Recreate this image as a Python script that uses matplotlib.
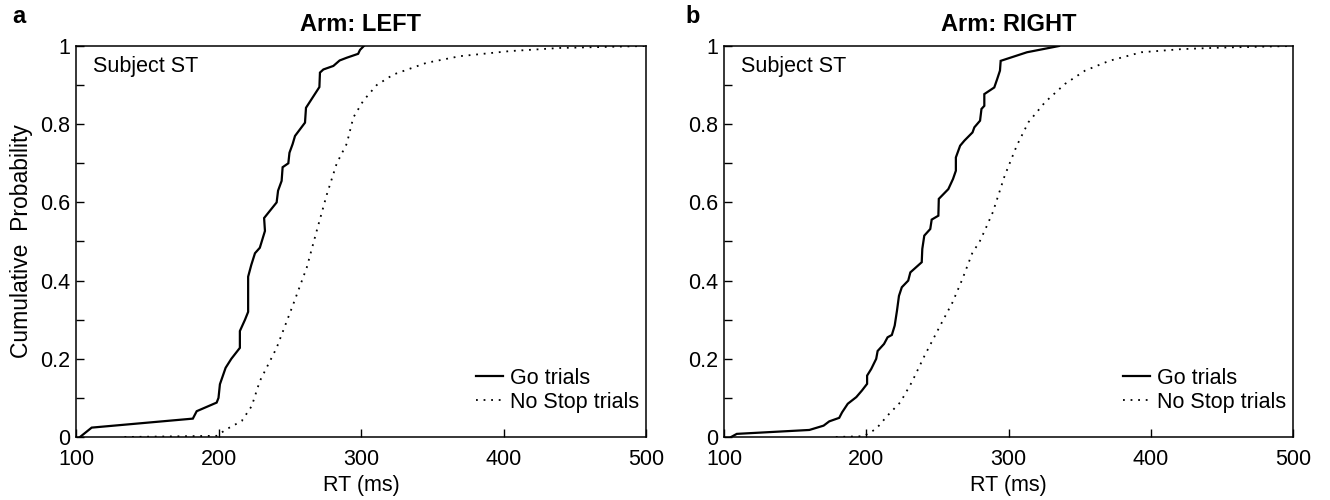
import matplotlib
matplotlib.use("Agg")
import matplotlib.pyplot as plt
from matplotlib.ticker import MultipleLocator

plt.rcParams['font.family'] = ['Liberation Sans', 'DejaVu Sans']

# ---- data ----
left_go_rt = [102.8, 111, 182, 184.7, 198.7, 200, 201, 205, 209, 215, 215, 218.6, 220.8, 220.8,
              223, 225.6, 229, 232.6, 232, 240.8, 241.8, 244.3, 245, 249, 249.8, 252, 253.7,
              260.7, 261.4, 270.8, 271.2, 273.6, 280.6, 285, 290, 298, 299.3, 302]
left_go_p = [0, 0.024, 0.047, 0.066, 0.088, 0.10, 0.135, 0.177, 0.2, 0.228, 0.271, 0.30, 0.32, 0.41,
             0.44, 0.47, 0.484, 0.527, 0.56, 0.60, 0.63, 0.655, 0.69, 0.70, 0.727, 0.749, 0.77,
             0.804, 0.842, 0.895, 0.932, 0.94, 0.949, 0.963, 0.97, 0.98, 0.99, 1.0]

left_ns_rt = [134, 198.7, 205.7, 216.3, 223.3, 229, 240.8, 252.5, 261.9, 268.9, 276, 283, 290,
              294.6, 301.6, 311, 322.7, 346, 369.5, 404.6, 439.6, 500]
left_ns_p = [0, 0.003, 0.02, 0.041, 0.079, 0.143, 0.228, 0.34, 0.433, 0.527, 0.62, 0.70, 0.75,
             0.817, 0.86, 0.90, 0.927, 0.957, 0.974, 0.987, 0.995, 1.0]

right_go_rt = [105, 109, 160, 170, 174, 181, 183, 187, 193, 197, 200.6, 200.6, 203.5, 207, 208,
               212.5, 215, 218, 220, 221.6, 223, 225, 229.5, 231, 235, 239, 239.4, 240.8, 245,
               246, 250.7, 251, 257.7, 261, 263, 263, 266, 269, 274.7, 276, 280, 281, 283, 283,
               290, 292, 294, 294.5, 313, 335.5]
right_go_p = [0, 0.008, 0.018, 0.029, 0.04, 0.049, 0.063, 0.085, 0.102, 0.119, 0.136, 0.157,
              0.174, 0.2, 0.22, 0.238, 0.255, 0.261, 0.285, 0.323, 0.361, 0.383, 0.4, 0.421,
              0.434, 0.447, 0.481, 0.515, 0.532, 0.556, 0.566, 0.609, 0.634, 0.66, 0.681, 0.715,
              0.745, 0.758, 0.779, 0.792, 0.809, 0.839, 0.847, 0.877, 0.894, 0.915, 0.937,
              0.962, 0.984, 1.0]

right_ns_rt = [178.6, 198, 201, 207, 215, 224, 232, 241, 252, 260.6, 267.6, 274.7, 279.5, 283.8,
               289, 297.3, 305.8, 314, 325.6, 339.7, 353.8, 370.8, 393.4, 421.7, 450, 500]
right_ns_p = [0, 0.002, 0.008, 0.021, 0.055, 0.089, 0.14, 0.208, 0.285, 0.344, 0.404, 0.472,
              0.498, 0.532, 0.575, 0.668, 0.745, 0.805, 0.856, 0.903, 0.937, 0.962, 0.984,
              0.992, 0.996, 1.0]

panels = [("a", "Arm: LEFT", left_go_rt, left_go_p, left_ns_rt, left_ns_p),
          ("b", "Arm: RIGHT", right_go_rt, right_go_p, right_ns_rt, right_ns_p)]

xticks = [100, 200, 300, 400, 500]
yticks = [0, 0.2, 0.4, 0.6, 0.8, 1]
ytick_labels = ["0", "0.2", "0.4", "0.6", "0.8", "1"]

fig = plt.figure(figsize=(13.3, 5.0), dpi=100)
W, H = 1330, 500
axes_px = [(76, 646), (724, 1293)]
label_px = [12, 685]
top_px, bot_px = 46, 437
FS = 15.5

for (lab, title, grt, gp, nrt, npv), (x0, x1), lx in zip(panels, axes_px, label_px):
    ax = fig.add_axes([x0 / W, 1 - bot_px / H, (x1 - x0) / W, (bot_px - top_px) / H])
    ax.plot(grt, gp, color='black', lw=1.6, label='Go trials', solid_joinstyle='miter')
    ax.plot(nrt, npv, color='black', lw=1.3, linestyle=(0, (1, 3.2)), label='No Stop trials')
    ax.set_xlim(100, 500)
    ax.set_ylim(0, 1)
    ax.set_xticks(xticks)
    ax.set_xticklabels([str(v) for v in xticks])
    ax.set_yticks(yticks)
    ax.set_yticklabels(ytick_labels)
    ax.yaxis.set_minor_locator(MultipleLocator(0.1))
    ax.tick_params(axis='both', which='both', direction='in', labelsize=FS, width=1.0)
    ax.tick_params(axis='both', which='major', length=6)
    ax.tick_params(axis='y', which='minor', length=6)
    ax.tick_params(axis='x', which='major', pad=8.5)
    ax.tick_params(axis='y', which='major', pad=4)
    for s in ax.spines.values():
        s.set_linewidth(1.1)
    ax.set_xlabel("RT (ms)", fontsize=FS, labelpad=4)
    ax.set_title(title, fontsize=17, fontweight='bold', pad=11)
    ax.text(0.03, 0.975, "Subject ST", transform=ax.transAxes, fontsize=FS,
            va='top', ha='left')
    ax.legend(loc='lower right', bbox_to_anchor=(1.0, 0.046), frameon=False, fontsize=FS,
              handlelength=1.25, handletextpad=0.33, labelspacing=0.12,
              borderaxespad=0.1, borderpad=0.2)
    fig.text(lx / W, 1 - 5 / H, lab, fontsize=17, fontweight='bold',
             ha='left', va='top')

fig.axes[0].set_ylabel("Cumulative  Probability", fontsize=16.5, labelpad=5)

fig.savefig("out.png", dpi=100)
